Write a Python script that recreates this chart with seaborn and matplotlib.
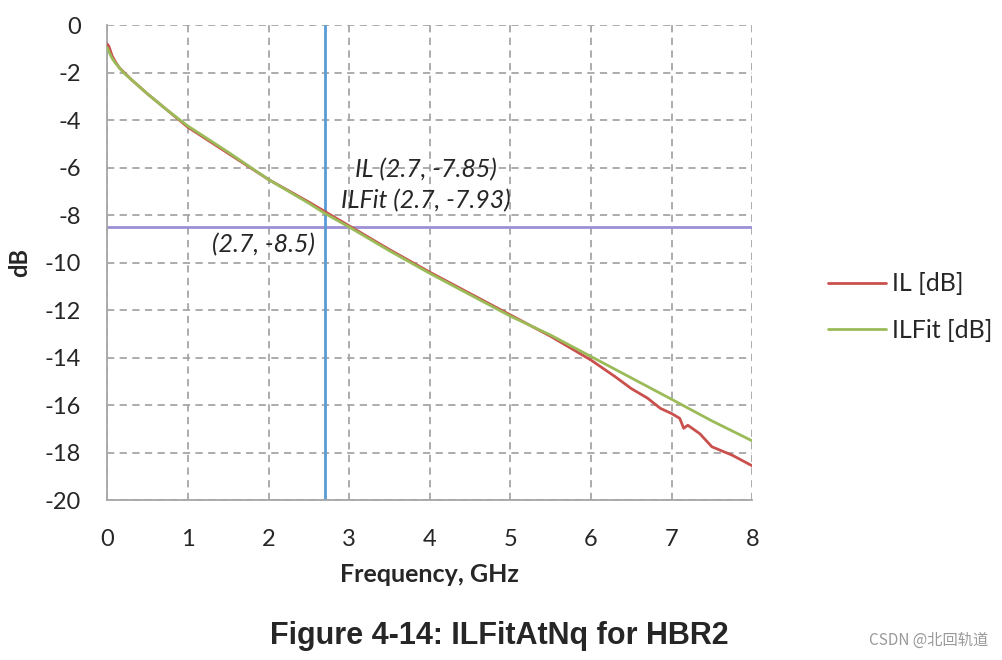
import pandas as pd
import matplotlib.pyplot as plt
import seaborn as sns

sns.set_style('white')
plt.rcParams['font.family'] = ['Lato', 'DejaVu Sans']
plt.rcParams['axes.unicode_minus'] = False

# values
freq_fit = [0.0, 0.03, 0.06, 0.1, 0.15, 0.2, 0.3, 0.4, 0.5, 0.75, 1.0, 1.25, 1.5, 2.0, 2.5, 2.7, 3.0,
            3.5, 4.0, 4.5, 5.0, 5.5, 6.0, 6.5, 7.0, 7.5, 8.0]
fit_db = [-0.95, -1.2, -1.4, -1.6, -1.8, -2.0, -2.3, -2.6, -2.9, -3.6, -4.25, -4.8, -5.35, -6.5, -7.5, -7.93, -8.5,
          -9.5, -10.45, -11.35, -12.25, -13.05, -13.95, -14.85, -15.75, -16.66, -17.5]

freq_il = [0.0, 0.02, 0.04, 0.06, 0.1, 0.15, 0.2, 0.3, 0.4, 0.5, 0.75, 1.0, 1.25, 1.5, 2.0, 2.5, 2.7, 3.0,
           3.5, 4.0, 4.5, 5.0, 5.5, 6.0, 6.3, 6.5, 6.7, 6.86, 7.0, 7.1, 7.15, 7.2, 7.35,
           7.5, 7.75, 8.0]
il_db = [-0.8, -0.9, -1.1, -1.3, -1.55, -1.8, -1.97, -2.3, -2.6, -2.9, -3.6, -4.3, -4.85, -5.4, -6.5, -7.45, -7.85, -8.45,
         -9.45, -10.4, -11.3, -12.2, -13.1, -14.1, -14.8, -15.3, -15.7, -16.13, -16.35, -16.55, -16.97, -16.84, -17.2,
         -17.75, -18.1, -18.55]

marker_f = 2.7
marker_db = -8.5

df = pd.concat([
    pd.DataFrame({'freq': freq_il, 'db': il_db, 'series': 'IL [dB]'}),
    pd.DataFrame({'freq': freq_fit, 'db': fit_db, 'series': 'ILFit [dB]'}),
])

fig = plt.figure(figsize=(10.03, 6.6), dpi=100)
ax = fig.add_axes([0.107, 0.242, 0.643, 0.720])

ax.axhline(marker_db, color='#9d8fd6', lw=2, zorder=1)
ax.axvline(marker_f, color='#5b9bd5', lw=2, zorder=1)

sns.lineplot(data=df, x='freq', y='db', hue='series',
             palette={'IL [dB]': '#c9504d', 'ILFit [dB]': '#9bbb59'},
             linewidth=2, ax=ax, zorder=3)

ax.set_xlim(0, 8)
ax.set_ylim(-20, 0)
ax.set_xticks(range(0, 9))
ax.set_yticks(range(-20, 1, 2))
ax.grid(True, color='#a6a6a6', linestyle=(0, (4, 3)), linewidth=1.3)
ax.set_axisbelow(True)
for s in ['top', 'right']:
    ax.spines[s].set_visible(False)
for s in ['left', 'bottom']:
    ax.spines[s].set_color('#a6a6a6')
    ax.spines[s].set_linewidth(1.3)
ax.tick_params(axis='both', labelsize=17, length=6, width=1.3, color='#a6a6a6', direction='out')
ax.tick_params(axis='y', pad=13)
ax.tick_params(axis='x', pad=15)

ax.set_xlabel('Frequency, GHz', fontsize=18, fontweight='bold', labelpad=9)
ax.set_ylabel('dB', fontsize=17, fontweight='bold', labelpad=10)

ax.text(3.95, -6.1, 'IL (2.7, -7.85)', fontsize=18, style='italic', ha='center', va='center')
ax.text(3.95, -7.37, 'ILFit (2.7, -7.93)', fontsize=18, style='italic', ha='center', va='center')
ax.text(1.94, -9.26, '(2.7, -8.5)', fontsize=18, style='italic', ha='center', va='center')

ax.legend(loc='center left', bbox_to_anchor=(1.102, 0.406), frameon=False, fontsize=18,
          borderaxespad=0, handlelength=2.3, handletextpad=0.25, labelspacing=0.95, title=None)

fig.text(0.498, 0.036, 'Figure 4-14: ILFitAtNq for HBR2', fontsize=22, fontweight='bold',
         family='Liberation Sans', ha='center', va='center')
fig.text(0.985, 0.03, 'CSDN @北回轨道', fontsize=11, color='#999999', ha='right', va='center',
         family=['Noto Sans CJK SC', 'DejaVu Sans'])

fig.savefig('out.png', dpi=100)
